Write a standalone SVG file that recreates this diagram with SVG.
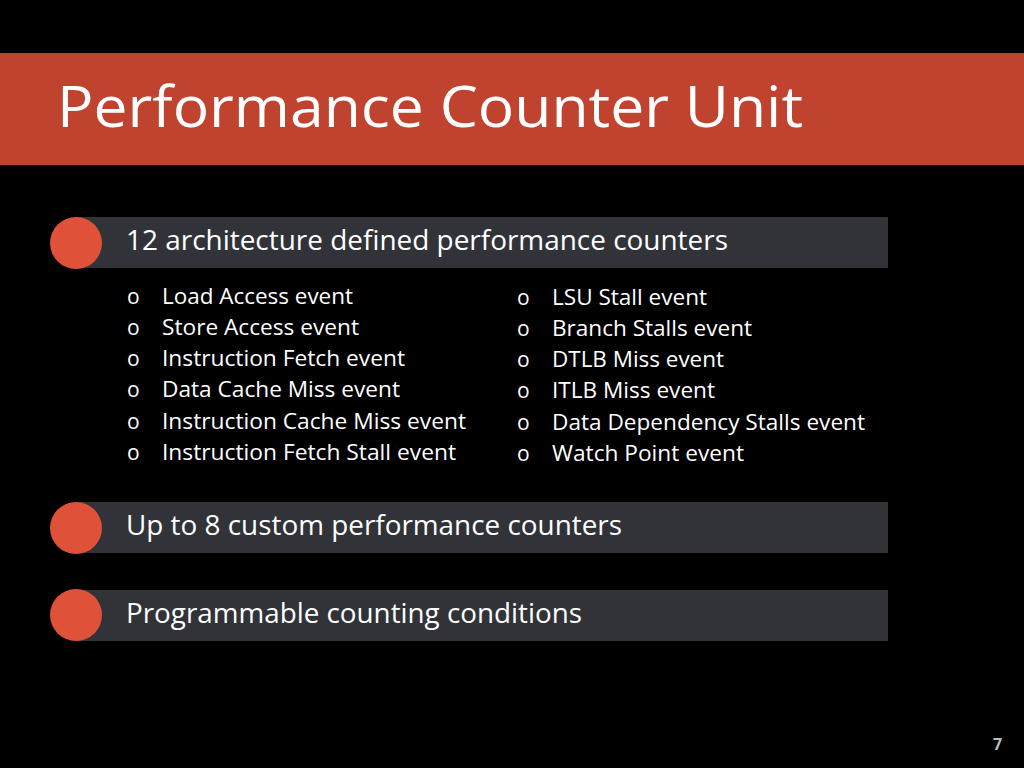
<svg xmlns="http://www.w3.org/2000/svg" width="1024" height="768" viewBox="0 0 1024 768">
<style>
text{font-family:"Open Sans","Liberation Sans",sans-serif;fill:#fff}
.bar{fill:#313338}
.dot{fill:#e0513a}
.h{font-size:27px}
.b{font-size:21px}
</style>
<rect width="1024" height="768" fill="#000"/>
<rect x="0" y="53" width="1024" height="112" fill="#c0432f"/>
<text x="57" y="127" font-size="56" textLength="746" lengthAdjust="spacingAndGlyphs">Performance Counter Unit</text>
<g id="n1"><rect class="bar" x="76" y="217" width="812" height="51"/><circle class="dot" cx="76" cy="243" r="26"/>
<text class="h" x="126" y="250" textLength="602" lengthAdjust="spacingAndGlyphs">12 architecture defined performance counters</text></g>
<g id="list1" class="b">
<text x="127" y="304">o</text><text x="162" y="304" textLength="191" lengthAdjust="spacingAndGlyphs">Load Access event</text>
<text x="127" y="335">o</text><text x="162" y="335" textLength="197" lengthAdjust="spacingAndGlyphs">Store Access event</text>
<text x="127" y="366">o</text><text x="162" y="366" textLength="243" lengthAdjust="spacingAndGlyphs">Instruction Fetch event</text>
<text x="127" y="397">o</text><text x="162" y="397" textLength="238" lengthAdjust="spacingAndGlyphs">Data Cache Miss event</text>
<text x="127" y="429">o</text><text x="162" y="429" textLength="304" lengthAdjust="spacingAndGlyphs">Instruction Cache Miss event</text>
<text x="127" y="460">o</text><text x="162" y="460" textLength="294" lengthAdjust="spacingAndGlyphs">Instruction Fetch Stall event</text>
</g>
<g id="list2" class="b">
<text x="517" y="305">o</text><text x="552" y="305" textLength="155" lengthAdjust="spacingAndGlyphs">LSU Stall event</text>
<text x="517" y="336">o</text><text x="552" y="336" textLength="200" lengthAdjust="spacingAndGlyphs">Branch Stalls event</text>
<text x="517" y="367">o</text><text x="552" y="367" textLength="172" lengthAdjust="spacingAndGlyphs">DTLB Miss event</text>
<text x="517" y="398">o</text><text x="552" y="398" textLength="163" lengthAdjust="spacingAndGlyphs">ITLB Miss event</text>
<text x="517" y="430">o</text><text x="552" y="430" textLength="313" lengthAdjust="spacingAndGlyphs">Data Dependency Stalls event</text>
<text x="517" y="461">o</text><text x="552" y="461" textLength="192" lengthAdjust="spacingAndGlyphs">Watch Point event</text>
</g>
<g id="n2"><rect class="bar" x="76" y="502" width="812" height="51"/><circle class="dot" cx="76" cy="528" r="26"/>
<text class="h" x="126" y="535" textLength="496" lengthAdjust="spacingAndGlyphs">Up to 8 custom performance counters</text></g>
<g id="n3"><rect class="bar" x="76" y="590" width="812" height="51"/><circle class="dot" cx="76" cy="615" r="26"/>
<text class="h" x="126" y="623" textLength="456" lengthAdjust="spacingAndGlyphs">Programmable counting conditions</text></g>
<text x="993" y="750" font-size="16" font-weight="bold" style="fill:#bbb">7</text>
</svg>
